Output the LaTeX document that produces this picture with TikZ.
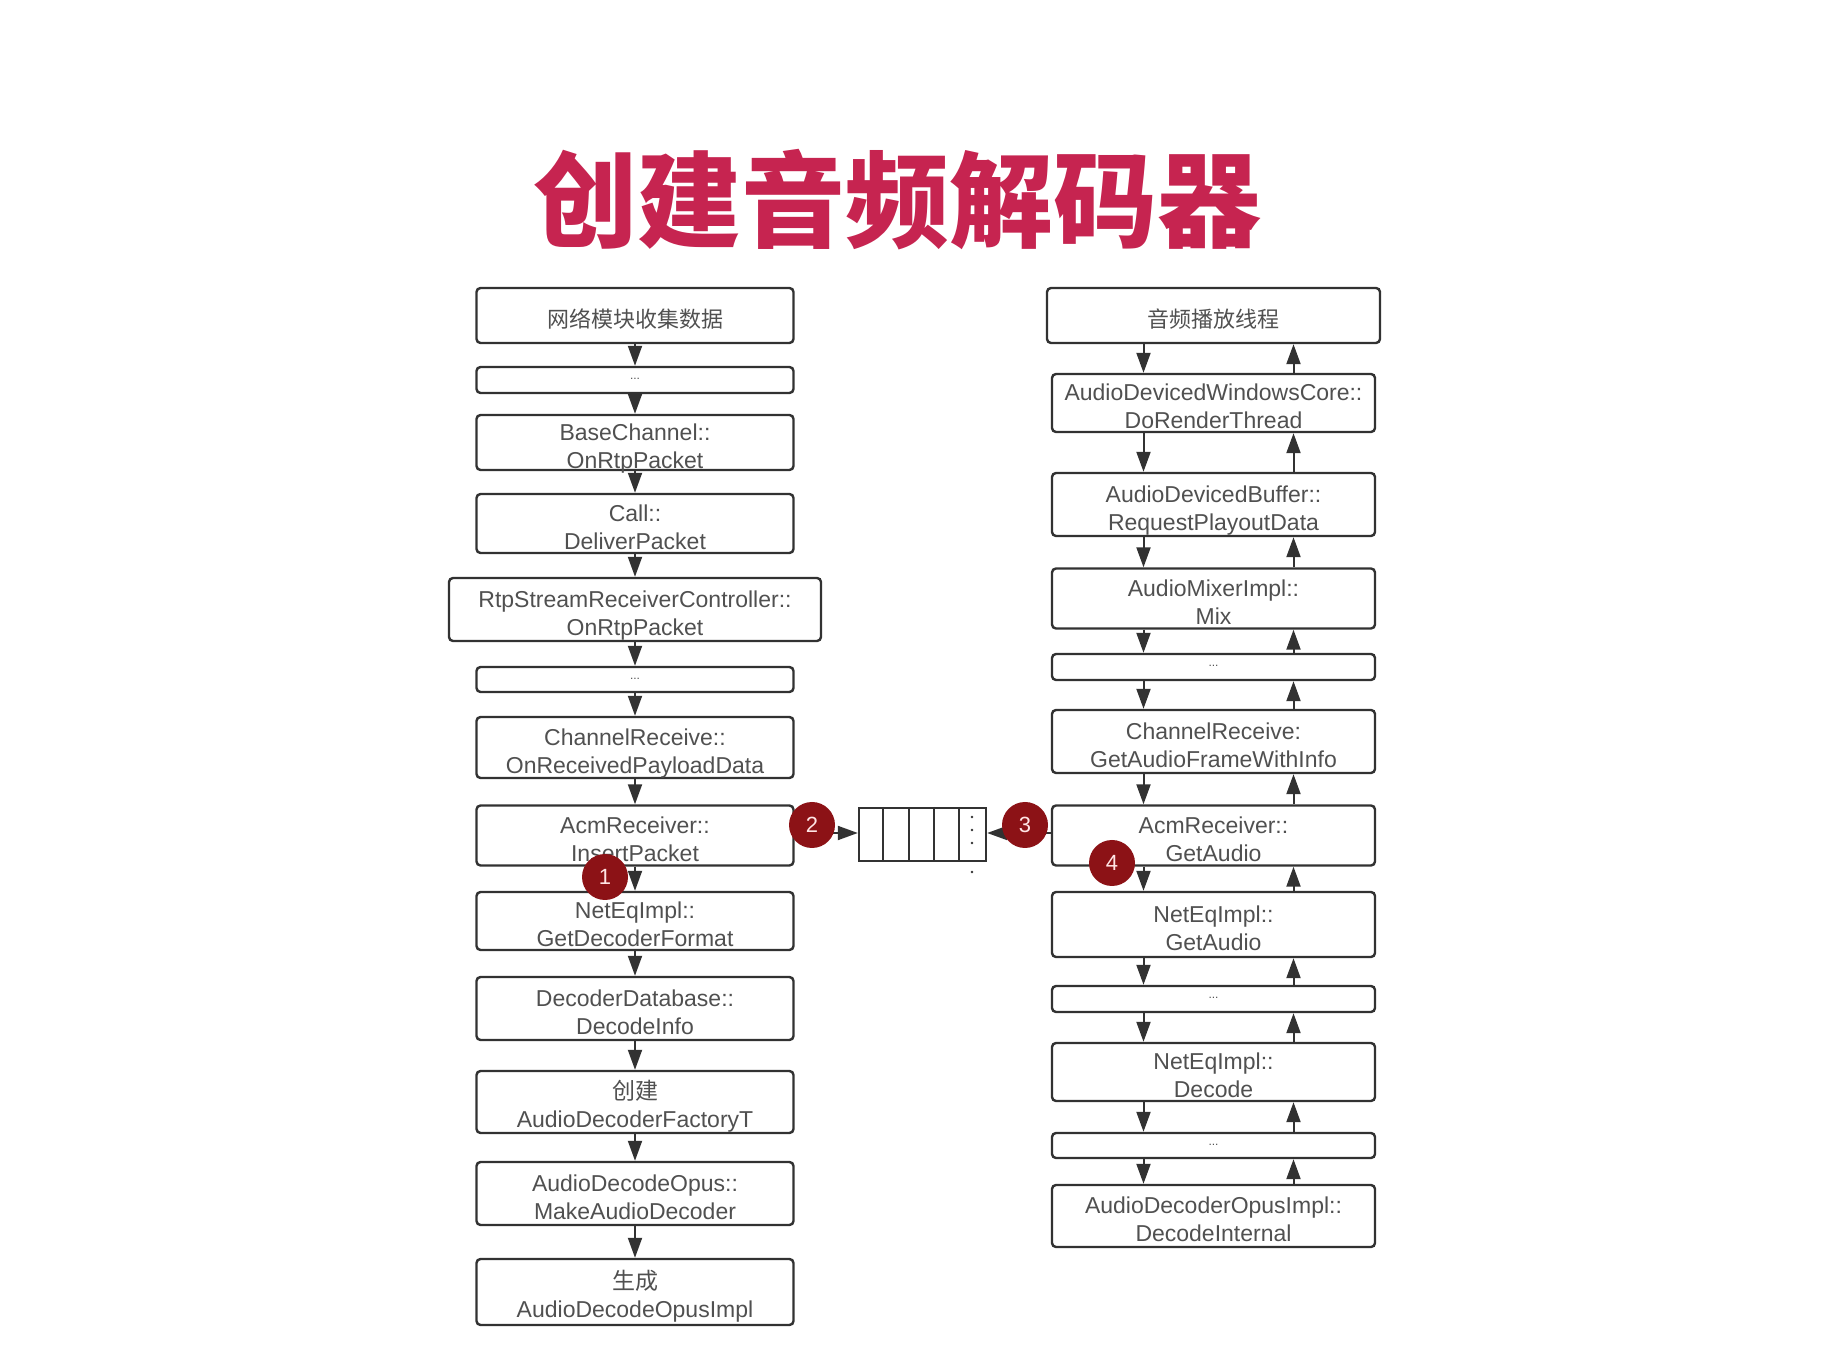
\documentclass[tikz,border=0pt]{standalone}
\usepackage{fontspec}
\setmainfont{Liberation Sans}
\newfontfamily\cjk{Noto Sans CJK SC}
\usetikzlibrary{arrows.meta}

\definecolor{titlered}{RGB}{198,36,80}
\definecolor{badgered}{RGB}{140,18,22}
\definecolor{linegray}{RGB}{50,50,50}
\definecolor{textgray}{RGB}{80,80,80}

\tikzset{
  blk/.style={draw=linegray,line width=1.2pt,rounded corners=2pt,inner sep=0pt,
    minimum width=158.5pt,align=center,text=textgray,text height=25.7pt,text depth=0pt,
    font=\fontsize{11.5}{14}\selectfont},
  cjkblk/.style={blk,text height=11.9pt,font=\cjk\fontsize{11}{13}\selectfont},
  dotblk/.style={blk,text height=0pt,font=\fontsize{6}{6}\selectfont},
  arr/.style={draw=linegray,line width=1pt,-{Triangle[length=10pt,width=7pt]}},
  badge/.style={circle,fill=badgered,minimum size=23pt,inner sep=0pt,
    text=red!10,font=\fontsize{11}{11}\selectfont}
}

\begin{document}
\begin{tikzpicture}[x=0.5pt,y=-0.5pt]
  \useasboundingbox (0,0) rectangle (1844,1352);

  % title
  \node[text=titlered,font=\cjk\bfseries\fontsize{52}{52}\selectfont] (title) at (897,200) {创建音频解码器};

  %% left column: receiving side
  \node[cjkblk,minimum height=27.5pt] (l1) at (635,315.5) {网络模块收集数据};
  \node[dotblk,minimum height=13pt] (l2) at (635,380) {...};
  \node[blk,minimum height=27.5pt] (l3) at (635,442.5) {BaseChannel::\\OnRtpPacket};
  \node[blk,minimum height=29.5pt] (l4) at (635,523.5) {Call::\\DeliverPacket};
  \node[blk,minimum height=31.5pt,minimum width=186pt] (l5) at (635,609.5) {RtpStreamReceiverController::\\OnRtpPacket};
  \node[dotblk,minimum height=12.5pt] (l6) at (635,679.5) {...};
  \node[blk,minimum height=30.5pt] (l7) at (635,747.5) {ChannelReceive::\\OnReceivedPayloadData};
  \node[blk,minimum height=30pt] (l8) at (635,835.5) {AcmReceiver::\\InsertPacket};
  \node[blk,minimum height=29pt] (l9) at (635,921) {NetEqImpl::\\GetDecoderFormat};
  \node[blk,minimum height=31.5pt] (l10) at (635,1008.5) {DecoderDatabase::\\DecodeInfo};
  \node[blk,minimum height=31pt] (l11) at (635,1102) {{\cjk 创建}\\AudioDecoderFactoryT};
  \node[blk,minimum height=31.5pt] (l12) at (635,1193.5) {AudioDecodeOpus::\\MakeAudioDecoder};
  \node[blk,minimum height=33pt] (l13) at (635,1292) {{\cjk 生成}\\AudioDecodeOpusImpl};

  \foreach \a/\b in {l1/l2,l2/l3,l3/l4,l4/l5,l5/l6,l6/l7,l7/l8,l8/l9,l9/l10,l10/l11,l11/l12,l12/l13}
    \draw[arr] (\a) -- (\b);

  %% right column: playout side
  \node[cjkblk,minimum height=27.5pt,minimum width=166.5pt] (r1) at (1213.5,315.5) {音频播放线程};
  \node[blk,minimum height=29pt,minimum width=161.5pt] (r2) at (1213.5,403) {AudioDevicedWindowsCore::\\DoRenderThread};
  \node[blk,minimum height=31.5pt,minimum width=161.5pt] (r3) at (1213.5,504.5) {AudioDevicedBuffer::\\RequestPlayoutData};
  \node[blk,minimum height=30pt,minimum width=161.5pt] (r4) at (1213.5,598.5) {AudioMixerImpl::\\Mix};
  \node[dotblk,minimum height=13pt,minimum width=161.5pt] (r5) at (1213.5,667) {...};
  \node[blk,minimum height=31.5pt,minimum width=161.5pt] (r6) at (1213.5,741.5) {ChannelReceive:\\GetAudioFrameWithInfo};
  \node[blk,minimum height=30pt,minimum width=161.5pt] (r7) at (1213.5,835.5) {AcmReceiver::\\GetAudio};
  \node[blk,minimum height=32.5pt,minimum width=161.5pt] (r8) at (1213.5,924.5) {NetEqImpl::\\GetAudio};
  \node[dotblk,minimum height=13pt,minimum width=161.5pt] (r9) at (1213.5,999) {...};
  \node[blk,minimum height=29pt,minimum width=161.5pt] (r10) at (1213.5,1072) {NetEqImpl::\\Decode};
  \node[dotblk,minimum height=12.5pt,minimum width=161.5pt] (r11) at (1213.5,1145.5) {...};
  \node[blk,minimum height=31pt,minimum width=161.5pt] (r12) at (1213.5,1216) {AudioDecoderOpusImpl::\\DecodeInternal};

  % calls go down, returns come back up
  \foreach \a/\b in {r1/r2,r2/r3,r3/r4,r4/r5,r5/r6,r6/r7,r7/r8,r8/r9,r9/r10,r10/r11,r11/r12}
  {
    \draw[arr] ([xshift=-35pt]\a.south) -- ([xshift=-35pt]\b.north);
    \draw[arr] ([xshift=40pt]\b.north) -- ([xshift=40pt]\a.south);
  }

  %% the packet buffer between both sides
  \node[draw=linegray,line width=1.2pt,minimum width=63.5pt,minimum height=26.5pt,inner sep=0pt] (q) at (922.5,834.5) {};
  \foreach \i in {1,...,4}
    \draw[linegray,line width=1pt] ([xshift=\i*12.7pt]q.north west) -- ([xshift=\i*12.7pt]q.south west);
  \foreach \y in {817,830,843,872}
    \fill[linegray] (972,\y) circle (1.3);

  \draw[arr] (l8.east |- 0,833) -- (q.west |- 0,833);
  \draw[arr] (r7.west |- 0,833) -- (q.east |- 0,833);

  % numbered steps
  \node[badge] (b1) at (605,877) {1};
  \node[badge] (b2) at (812,825) {2};
  \node[badge] (b3) at (1025,825) {3};
  \node[badge] (b4) at (1112,863) {4};
\end{tikzpicture}
\end{document}
